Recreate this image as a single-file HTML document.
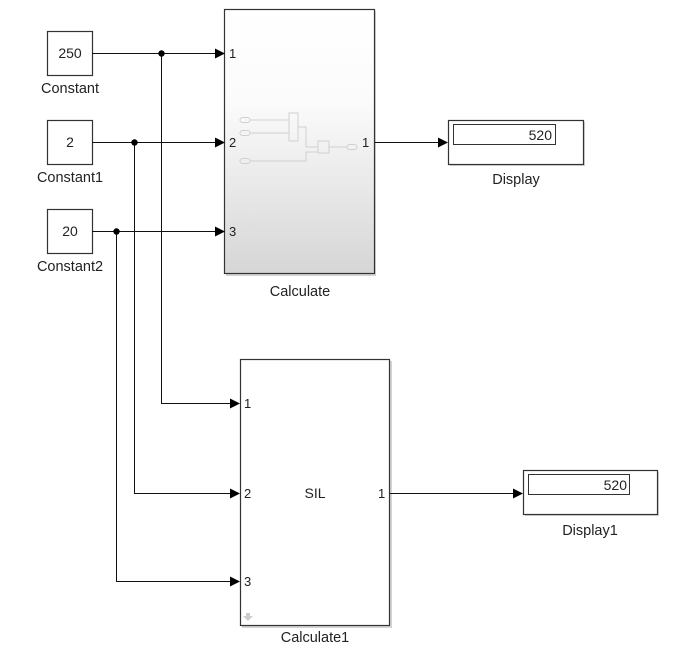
<!DOCTYPE html>
<html><head><style>
html,body{margin:0;padding:0;background:#fff;}
svg{display:block;}
text{font-family:"Liberation Sans",Arial,sans-serif;}
</style></head><body>
<svg width="692" height="648" viewBox="0 0 692 648" xmlns="http://www.w3.org/2000/svg">
<defs>
<linearGradient id="g" x1="0" y1="0" x2="0" y2="1">
<stop offset="0" stop-color="#ffffff"/><stop offset="0.35" stop-color="#fbfbfb"/><stop offset="1" stop-color="#d6d6d6"/>
</linearGradient>
</defs>
<g fill="#fff" stroke="#333" stroke-width="1.2">
<rect x="47.5" y="31.5" width="45" height="44"/>
<rect x="47.5" y="120.5" width="45" height="44"/>
<rect x="47.5" y="209.5" width="45" height="44"/>
</g>
<g font-size="14" text-anchor="middle" fill="#222">
<text x="70" y="58">250</text>
<text x="70" y="147">2</text>
<text x="70" y="236">20</text>
<text x="70" y="93" font-size="14.5">Constant</text>
<text x="70" y="182" font-size="14.5">Constant1</text>
<text x="70" y="271" font-size="14.5">Constant2</text>
</g>
<rect x="226" y="11" width="150" height="265" fill="#aaa" opacity="0.5"/>
<rect x="224.5" y="9.5" width="150" height="264" fill="url(#g)" stroke="#333" stroke-width="1.2"/>
<g fill="none" stroke="#d0d0d0" stroke-width="1">
<rect x="240" y="117.5" width="10" height="5" rx="2.5"/>
<rect x="240" y="130.5" width="10" height="5" rx="2.5"/>
<rect x="240" y="158.5" width="10" height="5" rx="2.5"/>
<rect x="289" y="113" width="9" height="28"/>
<rect x="318" y="141" width="11" height="12"/>
<rect x="347" y="144.5" width="10" height="5" rx="2.5"/>
<path d="M250 120H289M250 133H289M298 127H306V147H318M250 161H306V152H318M329 147H347"/>
</g>
<g font-size="13" fill="#222">
<text x="229" y="58">1</text><text x="229" y="147">2</text><text x="229" y="236">3</text>
<text x="362" y="147">1</text>
<text x="300" y="296" font-size="14.5" text-anchor="middle">Calculate</text>
</g>
<rect x="450" y="122" width="135" height="44" fill="#aaa" opacity="0.5"/>
<rect x="448.5" y="120.5" width="135" height="44" fill="#fff" stroke="#333" stroke-width="1.2"/>
<rect x="453.5" y="124.5" width="102" height="20" fill="#fff" stroke="#333"/>
<text x="552" y="140" font-size="14" text-anchor="end" fill="#222">520</text>
<text x="516" y="184" font-size="14.5" text-anchor="middle" fill="#222">Display</text>
<rect x="242" y="361" width="150" height="267" fill="#aaa" opacity="0.5"/>
<rect x="240.5" y="359.5" width="149" height="266" fill="#fff" stroke="#333" stroke-width="1.2"/>
<g font-size="13" fill="#222">
<text x="244" y="408">1</text><text x="244" y="498">2</text><text x="244" y="586">3</text>
<text x="378" y="498">1</text>
<text x="315" y="498" font-size="14" text-anchor="middle">SIL</text>
<text x="315" y="642" font-size="14.5" text-anchor="middle">Calculate1</text>
</g>
<path d="M246 613h4v3h3l-5 5l-5-5h3z" fill="#ccc"/>
<rect x="525" y="472" width="134" height="44" fill="#aaa" opacity="0.5"/>
<rect x="523.5" y="470.5" width="134" height="44" fill="#fff" stroke="#333" stroke-width="1.2"/>
<rect x="528.5" y="474.5" width="101" height="20" fill="#fff" stroke="#333"/>
<text x="627" y="490" font-size="14" text-anchor="end" fill="#222">520</text>
<text x="590" y="535" font-size="14.5" text-anchor="middle" fill="#222">Display1</text>
<g stroke="#111" stroke-width="1" fill="none">
<path d="M92 53.5H216M92 142.5H216M92 231.5H216"/>
<path d="M161.5 53V403.5H231M134.5 142V493.5H231M116.5 231V581.5H231"/>
<path d="M375 142.5H440M390 493.5H514"/>
</g>
<g fill="#000">
<circle cx="161.5" cy="53.5" r="3.2"/><circle cx="134.5" cy="142.5" r="3.2"/><circle cx="116.5" cy="231.5" r="3.2"/>
<path d="M215 48.5L225 53.5L215 58.5Z"/><path d="M215 137.5L225 142.5L215 147.5Z"/><path d="M215 226.5L225 231.5L215 236.5Z"/>
<path d="M230 398.5L240 403.5L230 408.5Z"/><path d="M230 488.5L240 493.5L230 498.5Z"/><path d="M230 576.5L240 581.5L230 586.5Z"/>
<path d="M438 137.5L448 142.5L438 147.5Z"/><path d="M513 488.5L523 493.5L513 498.5Z"/>
</g>
</svg>
</body></html>
